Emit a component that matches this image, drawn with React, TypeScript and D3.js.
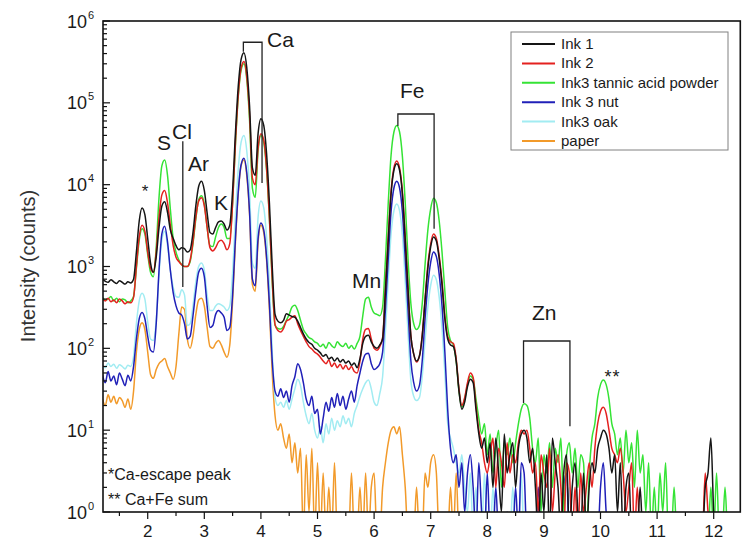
import React from "react";
import * as d3 from "d3";

// Energy grid (keV): 1.20 .. 12.50 in 0.05 steps (227 samples)
const ENERGY_START = 1.2;
const ENERGY_STEP = 0.05;
const N_POINTS = 227;
const ENERGY: number[] = d3.range(N_POINTS).map((i) => +(ENERGY_START + i * ENERGY_STEP).toFixed(2));

// Counts (0 = below axis)
const INK1: number[] = [
  700, 660, 640, 690, 650, 620, 670, 640, 610, 650, 630, 700, 1500, 3600, 5200, 4300,
  2200, 1100, 850, 1300, 3000, 5500, 6200, 4600, 2800, 2200, 1800, 1600, 1700, 1650, 1500, 1600, 2600, 5500, 9500, 11000,
  8500, 4500, 2600, 2500, 3000, 3500, 3600, 3300, 2800, 3200, 8500, 43000, 160000, 340000, 410000, 270000, 90000, 16000, 13000, 42000,
  64000, 53000, 24000, 6000, 1000, 260, 215, 205, 220, 265, 255, 245, 240, 215, 180, 150, 130, 118, 112, 100,
  95, 88, 80, 84, 74, 78, 70, 76, 68, 73, 66, 70, 62, 66, 58, 75, 115, 140, 145, 120,
  105, 100, 110, 130, 500, 2100, 7700, 15000, 18000, 15000, 7600, 2100, 500, 140, 85, 70, 80, 140, 380, 960,
  1750, 2300, 2050, 1250, 600, 230, 130, 110, 105, 70, 30, 18, 22, 34, 42, 38, 18, 9, 6, 8,
  4, 7, 2, 8, 3, 1, 9, 3, 5, 7, 2, 6, 9, 10, 8, 4, 6, 2, 0, 3,
  1, 5, 0, 8, 4, 2, 0, 3, 5, 0, 2, 4, 1, 0, 3, 0, 2, 4, 3, 6,
  8, 10, 9, 6, 3, 5, 1, 4, 0, 2, 3, 0, 1, 0, 2, 0, 0, 1, 0, 0,
  0, 1, 0, 0, 0, 0, 0, 0, 0, 0, 0, 0, 0, 0, 0, 0, 0, 2, 3, 8,
  1, 0, 0, 0, 0, 0, 0, 0, 0, 0, 0,
];

const INK2: number[] = [
  400, 380, 410, 370, 390, 360, 400, 380, 350, 370, 360, 420, 1000, 2300, 3200, 2700,
  1500, 950, 850, 1500, 4000, 7500, 8500, 6000, 3200, 1800, 1300, 1150, 1050, 1000, 1000, 1200, 2000, 4000, 6300, 6900,
  5500, 3000, 1700, 1550, 1700, 2000, 2100, 1900, 1600, 1900, 6000, 33000, 125000, 265000, 320000, 210000, 70000, 12000, 10000, 28000,
  42000, 35000, 16000, 4000, 700, 195, 165, 158, 175, 215, 225, 240, 250, 200, 165, 140, 120, 105, 98, 90,
  85, 78, 70, 65, 72, 60, 66, 58, 64, 56, 62, 55, 60, 52, 50, 70, 130, 170, 175, 130,
  100, 95, 105, 135, 540, 2300, 8400, 16000, 19500, 16000, 8200, 2300, 540, 140, 85, 68, 80, 145, 400, 1050,
  1900, 2500, 2200, 1350, 650, 250, 140, 120, 115, 75, 32, 20, 25, 38, 50, 44, 20, 10, 7, 4,
  3, 5, 8, 2, 6, 4, 2, 7, 3, 5, 4, 7, 10, 9, 10, 6, 3, 4, 1, 5,
  3, 2, 6, 1, 3, 5, 2, 0, 4, 3, 0, 2, 0, 3, 1, 2, 4, 2, 6, 12,
  17, 19, 16, 10, 6, 5, 4, 6, 3, 1, 2, 4, 0, 2, 0, 1, 0, 0, 0, 0,
  0, 0, 0, 0, 0, 0, 0, 0, 0, 0, 0, 0, 0, 0, 0, 0, 0, 3, 1, 0,
  0, 0, 0, 0, 0, 0, 0, 0, 0, 0, 0,
];

const INK3_TANNIC: number[] = [
  420, 390, 400, 430, 380, 410, 370, 400, 390, 360, 380, 430, 950, 2100, 2900, 2500,
  1400, 850, 750, 1700, 7000, 17000, 20000, 13000, 5000, 2200, 1500, 1200, 1050, 1000, 1000, 1150, 1900, 3800, 6500, 7300,
  5800, 3000, 1800, 1750, 2300, 3000, 3300, 3000, 2200, 2200, 6000, 31000, 120000, 250000, 300000, 195000, 60000, 9000, 7000, 26000,
  40000, 33000, 15000, 3800, 650, 190, 175, 172, 185, 220, 260, 320, 335, 290, 220, 170, 150, 135, 130, 120,
  115, 105, 112, 100, 118, 108, 102, 120, 110, 105, 115, 100, 108, 98, 115, 140, 250, 400, 420, 320,
  270, 260, 250, 320, 1200, 6000, 23000, 44000, 53000, 44000, 22000, 6000, 1200, 350, 200, 170, 190, 350, 1050, 2800,
  5100, 6800, 6000, 3600, 1500, 500, 180, 125, 110, 70, 30, 19, 24, 36, 46, 42, 24, 14, 9, 12,
  5, 9, 3, 6, 10, 2, 7, 5, 8, 4, 7, 12, 18, 21, 20, 14, 6, 4, 8, 1,
  5, 3, 7, 2, 6, 4, 8, 1, 5, 7, 3, 6, 2, 5, 4, 0, 3, 8, 12, 25,
  36, 41, 36, 24, 12, 9, 5, 8, 3, 10, 4, 7, 2, 10, 3, 5, 1, 4, 0, 2,
  0, 3, 1, 4, 0, 0, 2, 0, 0, 0, 0, 0, 0, 0, 0, 0, 0, 0, 0, 2,
  0, 3, 0, 0, 2, 0, 0, 0, 0, 0, 0,
];

const INK3_NUT: number[] = [
  48, 38, 52, 40, 46, 36, 50, 42, 35, 47, 40, 60, 130, 230, 275, 230,
  140, 95, 90, 200, 900, 2500, 3100, 2000, 900, 480, 330, 270, 255, 200, 130, 140, 250, 500, 850, 950,
  750, 330, 180, 190, 260, 290, 270, 240, 165, 180, 450, 2200, 8200, 17500, 21000, 14000, 4500, 700, 580, 2200,
  3400, 2800, 1300, 350, 70, 30, 26, 32, 25, 30, 22, 35, 45, 65, 55, 38, 24, 20, 26, 16,
  18, 9, 14, 22, 17, 25, 19, 28, 20, 26, 18, 24, 30, 22, 35, 50, 70, 85, 87, 65,
  55, 58, 65, 90, 300, 1250, 4700, 9100, 11000, 9100, 4600, 1250, 290, 70, 38, 30, 35, 70, 230, 600,
  1130, 1500, 1320, 800, 330, 90, 18, 6, 4, 5, 2, 4, 1, 3, 5, 2, 0, 4, 1, 0,
  3, 0, 0, 2, 0, 0, 0, 1, 0, 0, 2, 0, 4, 3, 0, 0, 0, 0, 2, 0,
  0, 0, 0, 0, 0, 0, 0, 2, 3, 0, 0, 0, 0, 0, 0, 0, 0, 0, 0, 0,
  2, 4, 1, 0, 0, 0, 0, 0, 0, 0, 0, 0, 0, 0, 0, 0, 0, 0, 0, 0,
  0, 0, 0, 0, 0, 0, 0, 0, 0, 0, 0, 0, 0, 0, 0, 0, 0, 0, 0, 0,
  0, 0, 0, 0, 0, 0, 0, 0, 0, 0, 0,
];

const INK3_OAK: number[] = [
  62, 58, 66, 60, 64, 57, 63, 60, 56, 62, 60, 80, 200, 380, 470, 400,
  210, 130, 125, 220, 800, 2100, 2700, 1800, 900, 560, 430, 420, 520, 450, 190, 200, 330, 650, 1000, 1100,
  900, 450, 290, 290, 330, 350, 340, 320, 290, 330, 850, 4200, 15500, 33000, 40000, 26000, 8500, 1100, 950, 4000,
  6300, 5200, 2300, 600, 90, 25, 20, 22, 19, 23, 18, 24, 32, 42, 35, 22, 15, 12, 16, 10,
  8, 11, 7, 12, 9, 14, 10, 13, 11, 15, 12, 14, 11, 16, 20, 26, 32, 38, 41, 32,
  22, 20, 28, 45, 160, 670, 2500, 4800, 5800, 4800, 2400, 650, 150, 40, 26, 23, 25, 45, 125, 320,
  590, 780, 690, 420, 175, 50, 12, 8, 6, 4, 3, 5, 2, 1, 3, 0, 2, 0, 0, 3,
  0, 0, 2, 0, 0, 0, 0, 0, 0, 2, 0, 0, 3, 0, 0, 0, 0, 0, 0, 0,
  0, 0, 0, 0, 0, 0, 0, 0, 0, 2, 0, 0, 0, 0, 0, 0, 0, 0, 0, 0,
  0, 0, 1, 0, 0, 0, 0, 0, 0, 0, 0, 0, 0, 0, 0, 0, 0, 0, 0, 0,
  0, 0, 0, 0, 0, 0, 0, 0, 0, 0, 0, 0, 0, 0, 0, 0, 0, 0, 0, 0,
  0, 0, 0, 0, 0, 0, 0, 0, 0, 0, 0,
];

const PAPER: number[] = [
  24, 20, 27, 22, 26, 21, 25, 23, 19, 24, 18, 30, 90, 170, 205, 170,
  90, 48, 43, 55, 65, 70, 75, 60, 50, 42, 60, 150, 320, 300, 130, 100, 140, 260, 390, 410,
  330, 180, 105, 100, 115, 125, 110, 90, 78, 110, 380, 2000, 7800, 17000, 20000, 13000, 4300, 600, 500, 2000,
  3200, 2600, 1200, 300, 50, 15, 10, 12, 8, 6, 9, 4, 7, 3, 6, 0, 5, 1, 6, 0,
  4, 0, 3, 0, 2, 0, 4, 0, 1, 0, 0, 0, 3, 0, 0, 2, 0, 3, 0, 2,
  3, 0, 0, 2, 4, 7, 10, 11, 9, 11, 5, 2, 0, 0, 0, 2, 0, 0, 3, 2,
  4, 5, 3, 0, 0, 0, 0, 2, 0, 3, 0, 0, 0, 0, 0, 0, 0, 0, 0, 0,
  0, 0, 0, 0, 0, 0, 0, 0, 0, 0, 0, 0, 0, 0, 0, 0, 0, 0, 0, 0,
  0, 0, 0, 0, 0, 0, 0, 0, 0, 0, 0, 0, 0, 0, 0, 0, 0, 0, 0, 0,
  0, 0, 0, 0, 0, 0, 0, 0, 0, 0, 0, 0, 0, 0, 0, 0, 0, 0, 0, 0,
  0, 0, 0, 0, 0, 0, 0, 0, 0, 0, 0, 0, 0, 0, 0, 0, 0, 0, 0, 0,
  0, 0, 0, 0, 0, 0, 0, 0, 0, 0, 0,
];

const SERIES_NAMES = ["Ink 1", "Ink 2", "Ink3 tannic acid powder", "Ink 3 nut", "Ink3 oak", "paper"];
const SERIES_COLORS = ["#151515", "#e4211f", "#35e335", "#2020b8", "#a2ecf2", "#f29a2a"];
const SERIES_DATA = [INK1, INK2, INK3_TANNIC, INK3_NUT, INK3_OAK, PAPER];
const DRAW_ORDER = [5, 4, 3, 2, 1, 0];

const X_TICKS = [2, 3, 4, 5, 6, 7, 8, 9, 10, 11, 12];
const X_MINOR = [1.5, 2.5, 3.5, 4.5, 5.5, 6.5, 7.5, 8.5, 9.5, 10.5, 11.5];
const Y_EXPONENTS = [0, 1, 2, 3, 4, 5, 6];

// Annotations in data space (energy keV, counts)
const BRACKETS = [
  { e1: 3.69, e2: 4.02, top: 5.5e5, b1: 4.2e5, b2: 1.05e4 },
  { e1: 6.42, e2: 7.06, top: 7.3e4, b1: 5.2e4, b2: 2.9e3 },
  { e1: 8.64, e2: 9.46, top: 123, b1: 21.5, b2: 11.2 },
];
const CL_LINE = { e: 2.62, top: 3.4e4, bottom: 560 };

const W = 749;
const H = 545;
const L = 103;
const R = 740.3;
const T = 21;
const B = 512;
const FONT = "'Liberation Sans', Arial, Helvetica, sans-serif";

export default function App() {
  const x = d3.scaleLinear().domain([1.21, 12.47]).range([L, R]);
  const y = d3.scaleLog().domain([1, 1e6]).range([B, T]);
  const lineGen = d3
    .line<number>()
    .x((_, i) => x(ENERGY[i]))
    .y((d) => y(Math.max(d, 0.5)))
    .curve(d3.curveMonotoneX);

  const yMinor: number[] = [];
  for (let k = 0; k < 6; k++) for (let m = 2; m <= 9; m++) yMinor.push(m * Math.pow(10, k));

  const labels = [
    { t: "S", x: 157, y: 150 },
    { t: "Cl", x: 172, y: 139 },
    { t: "Ar", x: 188, y: 171 },
    { t: "K", x: 214, y: 210 },
    { t: "Ca", x: 267, y: 47 },
    { t: "Mn", x: 352, y: 288 },
    { t: "Fe", x: 400, y: 98 },
    { t: "Zn", x: 532, y: 320 },
  ];

  return (
    <svg
      width={W}
      height={H}
      style={{ position: "fixed", left: 0, top: 0, background: "#fff" }}
      fontFamily={FONT}
    >
      <defs>
        <clipPath id="plotclip">
          <rect x={L} y={T} width={R - L} height={B - T} />
        </clipPath>
      </defs>
      <rect x={0} y={0} width={W} height={H} fill="#fff" />

      <g clipPath="url(#plotclip)">
        {DRAW_ORDER.map((si) => (
          <path
            key={SERIES_NAMES[si]}
            d={lineGen(SERIES_DATA[si]) ?? ""}
            fill="none"
            stroke={SERIES_COLORS[si]}
            strokeWidth={1.5}
            strokeLinejoin="round"
          />
        ))}
      </g>

      {/* annotation brackets */}
      <g stroke="#222" strokeWidth={1.3} fill="none">
        {BRACKETS.map((b, i) => (
          <path
            key={i}
            d={`M${x(b.e1)},${y(b.b1)}V${y(b.top)}H${x(b.e2)}V${y(b.b2)}`}
          />
        ))}
        <line x1={x(CL_LINE.e)} x2={x(CL_LINE.e)} y1={y(CL_LINE.top)} y2={y(CL_LINE.bottom)} />
      </g>

      {/* element labels */}
      <g fontSize={21} fill="#1a1a1a">
        {labels.map((l) => (
          <text key={l.t} x={l.x} y={l.y}>
            {l.t}
          </text>
        ))}
      </g>
      <text x={145} y={197} fontSize={17} textAnchor="middle" fill="#1a1a1a">*</text>
      <text x={612.5} y={383} fontSize={18} textAnchor="middle" fill="#1a1a1a" letterSpacing={1}>**</text>
      <text x={108} y={480} fontSize={16} fill="#1a1a1a">*Ca-escape peak</text>
      <text x={108} y={505} fontSize={16} fill="#1a1a1a">** Ca+Fe sum</text>

      {/* frame */}
      <rect x={L} y={T} width={R - L} height={B - T} fill="none" stroke="#111" strokeWidth={1.6} />

      {/* y ticks (inward) */}
      <g stroke="#111" strokeWidth={1.2}>
        {Y_EXPONENTS.map((k) => (
          <line key={"ym" + k} x1={L} x2={L + 7} y1={y(Math.pow(10, k))} y2={y(Math.pow(10, k))} />
        ))}
        {yMinor.map((v) => (
          <line key={"yn" + v} x1={L} x2={L + 4} y1={y(v)} y2={y(v)} />
        ))}
      </g>
      <g fill="#1a1a1a">
        {Y_EXPONENTS.map((k) => (
          <g key={"yl" + k}>
            <text x={87} y={y(Math.pow(10, k)) + 6.5} fontSize={18} textAnchor="end">10</text>
            <text x={88} y={y(Math.pow(10, k)) - 2.5} fontSize={11}>{k}</text>
          </g>
        ))}
      </g>

      {/* x ticks (outward) */}
      <g stroke="#111" strokeWidth={1.2}>
        {X_TICKS.map((v) => (
          <line key={"xm" + v} x1={x(v)} x2={x(v)} y1={B} y2={B + 7} />
        ))}
        {X_MINOR.map((v) => (
          <line key={"xn" + v} x1={x(v)} x2={x(v)} y1={B} y2={B + 4} />
        ))}
      </g>
      <g fill="#1a1a1a" fontSize={17} textAnchor="middle">
        {X_TICKS.map((v) => (
          <text key={"xl" + v} x={x(v)} y={537}>
            {v}
          </text>
        ))}
      </g>

      {/* y axis title */}
      <text
        transform={`translate(35,266) rotate(-90)`}
        textAnchor="middle"
        fontSize={20}
        fill="#333"
      >
        Intensity (counts)
      </text>

      {/* legend */}
      <g>
        <rect x={511} y={32} width={217} height={118} fill="#fff" stroke="#808080" strokeWidth={1} />
        {SERIES_NAMES.map((n, i) => {
          const ly = 44 + i * 19.4;
          return (
            <g key={"lg" + n}>
              <line x1={522} x2={555} y1={ly} y2={ly} stroke={SERIES_COLORS[i]} strokeWidth={2} />
              <text x={561} y={ly + 5} fontSize={15} fill="#1a1a1a">
                {n}
              </text>
            </g>
          );
        })}
      </g>
    </svg>
  );
}
